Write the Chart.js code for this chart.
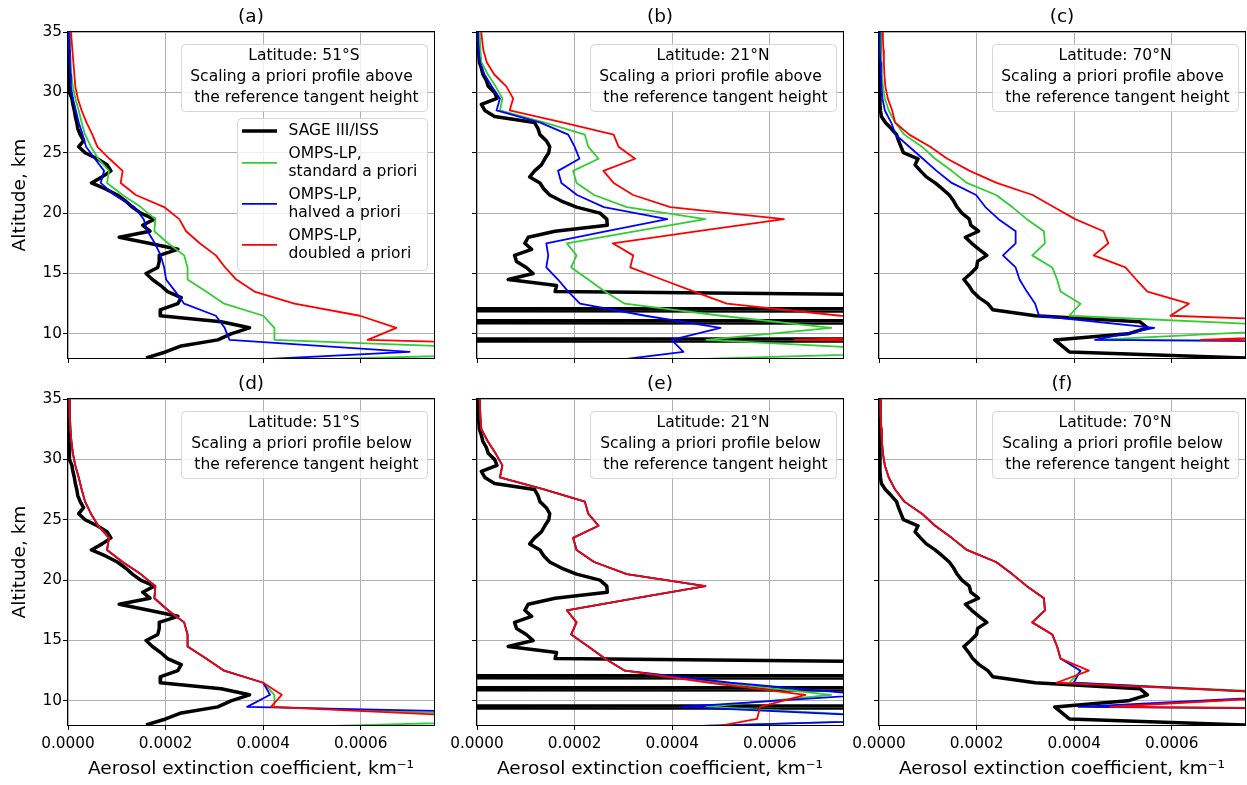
<!DOCTYPE html>
<html>
<head>
<meta charset="utf-8">
<script src="https://cdn.jsdelivr.net/npm/chart.js@4.4.1/dist/chart.umd.min.js"></script>
<style>
body { margin: 0; background: #fff; width: 1247px; height: 785px; overflow: hidden; position: relative; }
canvas { position: absolute; }
</style>
</head>
<body>
<script>
// extinction values are in units of 1e-4 km^-1
const EXT_UNIT = 1e-4;

// SAGE III/ISS altitude grid (km)
const sageAlt = [35, 34.5, 34, 33.5, 33, 32.5, 32, 31.5, 31, 30.5, 30, 29.5, 29, 28.5, 28, 27.5, 27, 26.5, 26, 25.5,
    25, 24.5, 24, 23.5, 23, 22.5, 22, 21.5, 21, 20.5, 20, 19.5, 19, 18.5, 18, 17.5, 17, 16.5, 16, 15.5,
    15, 14.5, 14, 13.5, 13, 12.5, 12, 11.5, 11, 10.5, 10, 9.5, 9, 8.5, 8];

const sage51S = [0.02, 0.02, 0.02, 0.02, 0.03, 0.03, 0.03, 0.03, 0.03, 0.03, 0.03, 0.08, 0.10, 0.13, 0.15, 0.18, 0.20, 0.25, 0.32, 0.22,
    0.35, 0.60, 0.80, 0.88, 0.70, 0.48, 0.77, 1.01, 1.18, 1.32, 1.49, 1.77, 1.53, 1.68, 1.05, 1.66, 2.25, 1.87, 1.87, 1.84,
    1.60, 1.73, 1.90, 2.04, 2.32, 2.25, 1.90, 1.89, 3.14, 3.72, 3.34, 3.07, 2.32, 2.00, 1.60];
const sage21N = [0.02, 0.02, 0.02, 0.03, 0.04, 0.05, 0.09, 0.12, 0.19, 0.23, 0.36, 0.41, 0.09, 0.16, 0.36, 1.18, 1.25, 1.29, 1.42, 1.49,
    1.47, 1.39, 1.32, 1.18, 1.08, 1.29, 1.37, 1.49, 1.73, 2.04, 2.52, 2.66, 2.67, 1.60, 1.05, 0.98, 1.12, 0.77, 0.81, 1.01,
    1.15, 0.64, 1.63, 1.60, 15, 200, -40, 200, -40, 200, 200, -40, 200, 200, 200];
const sage70N = [0.02, 0.02, 0.02, 0.02, 0.02, 0.02, 0.02, 0.02, 0.02, 0.02, 0.02, 0.02, 0.02, 0.03, 0.05, 0.13, 0.25, 0.36, 0.40, 0.45,
    0.50, 0.80, 0.74, 0.85, 0.97, 1.15, 1.30, 1.44, 1.53, 1.60, 1.70, 1.85, 1.88, 2.04, 1.77, 1.90, 2.05, 2.21, 2.02, 2.00,
    1.88, 1.74, 1.84, 1.92, 2.05, 2.23, 2.33, 3.20, 5.35, 5.50, 5.10, 3.60, 3.75, 3.90, 7.50];

// OMPS-LP altitude grid (km)
const ompsAlt = [35.5, 34.5, 33.5, 32.5, 31.5, 30.5, 29.5, 28.5, 27.5, 26.5, 25.5, 24.5, 23.5, 22.5, 21.5,
    20.5, 19.5, 18.5, 17.5, 16.5, 15.5, 14.5, 13.5, 12.5, 11.5, 10.5, 9.5, 8.5, 7.5];

// standard a priori (same in both rows)
const std51S = [0.03, 0.03, 0.04, 0.05, 0.07, 0.10, 0.15, 0.22, 0.28, 0.35, 0.47, 0.62, 0.84, 0.80, 1.12,
    1.49, 1.79, 1.77, 2.05, 2.38, 2.45, 2.45, 2.83, 3.20, 4.00, 4.23, 4.23, 10.8, 1.5];
const std21N = [0.05, 0.06, 0.07, 0.09, 0.22, 0.38, 0.52, 0.47, 1.39, 2.21, 2.28, 2.49, 1.97, 2.04, 2.40,
    3.07, 4.68, 3.26, 1.84, 2.04, 1.93, 2.28, 2.62, 3.03, 5.00, 7.26, 4.70, 9.5, 1.0];
const std70N = [0.03, 0.03, 0.04, 0.05, 0.06, 0.08, 0.12, 0.20, 0.33, 0.52, 0.88, 1.15, 1.49, 1.80, 2.40,
    2.73, 3.03, 3.38, 3.40, 3.14, 3.55, 3.65, 3.72, 4.13, 3.90, 9.4, 4.43, 40, 40];

// a priori scaled above the reference tangent height
const halfAbove51S = [0.02, 0.02, 0.03, 0.04, 0.05, 0.06, 0.10, 0.16, 0.22, 0.30, 0.37, 0.55, 0.74, 0.67, 0.95,
    1.36, 1.55, 1.63, 1.78, 1.90, 1.97, 2.01, 2.20, 2.38, 3.03, 3.21, 3.31, 7.0, 2.0];
const dblAbove51S = [0.06, 0.07, 0.09, 0.11, 0.13, 0.15, 0.20, 0.28, 0.38, 0.50, 0.60, 0.85, 1.12, 1.08, 1.39,
    1.97, 2.28, 2.42, 2.70, 3.03, 3.22, 3.45, 3.82, 4.64, 5.98, 6.73, 6.14, 16, 16];
const halfAbove21N = [0.01, 0.02, 0.03, 0.06, 0.15, 0.30, 0.47, 0.40, 1.30, 1.87, 2.00, 2.10, 1.66, 1.73, 2.05,
    2.60, 3.90, 2.66, 1.42, 1.46, 1.42, 1.66, 1.87, 2.11, 3.45, 4.99, 3.99, 4.23, 2.2];
const dblAbove21N = [0.08, 0.10, 0.13, 0.20, 0.35, 0.60, 0.74, 0.67, 1.77, 2.80, 2.90, 3.24, 2.59, 2.80, 3.20,
    3.96, 6.29, 4.53, 2.78, 3.20, 3.14, 3.79, 4.45, 5.12, 7.45, 15, 6.5, 30, 30];
const halfAbove70N = [0.01, 0.01, 0.02, 0.03, 0.04, 0.05, 0.07, 0.12, 0.25, 0.34, 0.62, 0.90, 1.18, 1.49, 1.99,
    2.18, 2.45, 2.80, 2.80, 2.54, 2.80, 2.88, 3.03, 3.20, 3.28, 5.64, 4.43, 40, 40];
const dblAbove70N = [0.07, 0.08, 0.09, 0.10, 0.11, 0.13, 0.18, 0.27, 0.33, 0.62, 1.05, 1.40, 1.86, 2.41, 3.15,
    3.58, 4.02, 4.60, 4.70, 4.40, 5.05, 5.27, 5.50, 6.35, 5.97, 13, 6.6, 40, 40];

// a priori scaled below the reference tangent height
const halfBelow51S = [0.03, 0.03, 0.04, 0.05, 0.07, 0.10, 0.15, 0.22, 0.28, 0.35, 0.47, 0.62, 0.84, 0.80, 1.12,
    1.49, 1.79, 1.77, 2.05, 2.38, 2.45, 2.45, 2.83, 3.20, 4.00, 4.14, 3.67, 15, 15];
const dblBelow51S = [0.03, 0.03, 0.04, 0.05, 0.07, 0.10, 0.15, 0.22, 0.28, 0.35, 0.47, 0.62, 0.84, 0.80, 1.12,
    1.49, 1.79, 1.77, 2.05, 2.38, 2.45, 2.45, 2.83, 3.20, 4.00, 4.38, 4.16, 9.6, 9.6];
const halfBelow21N = [0.05, 0.06, 0.07, 0.09, 0.22, 0.38, 0.52, 0.47, 1.39, 2.21, 2.28, 2.49, 1.97, 2.04, 2.40,
    3.07, 4.68, 3.26, 1.84, 2.04, 1.93, 2.28, 2.62, 3.03, 5.20, 8.0, 4.19, 9.5, 1.0];
const dblBelow21N = [0.05, 0.06, 0.07, 0.09, 0.22, 0.38, 0.52, 0.47, 1.39, 2.21, 2.28, 2.49, 1.97, 2.04, 2.40,
    3.07, 4.68, 3.26, 1.84, 2.04, 1.93, 2.28, 2.62, 3.03, 4.76, 6.73, 5.80, 5.74, 4.4];
const halfBelow70N = [0.03, 0.03, 0.04, 0.05, 0.06, 0.08, 0.12, 0.20, 0.33, 0.52, 0.88, 1.15, 1.49, 1.80, 2.40,
    2.73, 3.03, 3.38, 3.40, 3.14, 3.55, 3.65, 3.72, 4.13, 3.99, 8.9, 4.09, 40, 40];
const dblBelow70N = [0.03, 0.03, 0.04, 0.05, 0.06, 0.08, 0.12, 0.20, 0.33, 0.52, 0.88, 1.15, 1.49, 1.80, 2.40,
    2.73, 3.03, 3.38, 3.40, 3.14, 3.55, 3.65, 3.72, 4.30, 3.64, 9.1, 4.74, 40, 40];

const xTicks = [0, 0.0002, 0.0004, 0.0006];
const yTicks = [10, 15, 20, 25, 30, 35];

const panels = [
    { title: '(a)', lat: 'Latitude: 51°S', where: 'above', sage: sage51S, std: std51S, half: halfAbove51S, dbl: dblAbove51S, col: 0, row: 0, legend: true },
    { title: '(b)', lat: 'Latitude: 21°N', where: 'above', sage: sage21N, std: std21N, half: halfAbove21N, dbl: dblAbove21N, col: 1, row: 0 },
    { title: '(c)', lat: 'Latitude: 70°N', where: 'above', sage: sage70N, std: std70N, half: halfAbove70N, dbl: dblAbove70N, col: 2, row: 0 },
    { title: '(d)', lat: 'Latitude: 51°S', where: 'below', sage: sage51S, std: std51S, half: halfBelow51S, dbl: dblBelow51S, col: 0, row: 1 },
    { title: '(e)', lat: 'Latitude: 21°N', where: 'below', sage: sage21N, std: std21N, half: halfBelow21N, dbl: dblBelow21N, col: 1, row: 1 },
    { title: '(f)', lat: 'Latitude: 70°N', where: 'below', sage: sage70N, std: std70N, half: halfBelow70N, dbl: dblBelow70N, col: 2, row: 1 }
];

// layout (px)
const LEFT_MARGIN = 68, RIGHT_MARGIN = 3, TOP_MARGIN = 32;
const PLOT_W = 366, PLOT_H = 326;
const COL_LEFT = [68, 477, 879];
const ROW_TOP = [32, 399];
const BOTTOM_MARGIN = [12, 59];
const FONT = 'DejaVu Sans';

Chart.defaults.font.family = FONT;
Chart.defaults.color = '#000';

function profile(alts, vals) {
    return alts.map((a, i) => ({ x: vals[i] * EXT_UNIT, y: a }));
}

// spines, annotation box and legend on top of the lines
const decor = {
    id: 'decor',
    afterDatasetsDraw(chart, args, opts) {
        const { ctx, chartArea: a } = chart;
        ctx.save();
        ctx.strokeStyle = '#000';
        ctx.lineWidth = 1;
        ctx.strokeRect(a.left - 0.5, a.top - 0.5, a.right - a.left + 1, a.bottom - a.top + 1);

        // annotation
        const bx = a.right - 253, by = a.top + 12;
        ctx.beginPath();
        ctx.roundRect(bx + 0.5, by + 0.5, 246, 67, 4);
        ctx.fillStyle = 'rgba(255,255,255,0.8)';
        ctx.fill();
        ctx.strokeStyle = '#d6d6d6';
        ctx.stroke();
        ctx.fillStyle = '#000';
        ctx.font = '15.5px "' + FONT + '"';
        ctx.textAlign = 'center';
        ctx.textBaseline = 'middle';
        opts.lines.forEach((t, i) => ctx.fillText(t, bx + 123, a.top + 24 + i * 21));

        if (opts.legend) {
            const lx = a.right - 197, ly = a.top + 86;
            ctx.beginPath();
            ctx.roundRect(lx + 0.5, ly + 0.5, 190, 152, 4);
            ctx.fillStyle = 'rgba(255,255,255,0.8)';
            ctx.fill();
            ctx.strokeStyle = '#d6d6d6';
            ctx.stroke();
            ctx.textAlign = 'left';
            let y = a.top + 99;
            [0, 1, 2, 3].forEach(i => {
                const ds = chart.data.datasets[i];
                const rows = ds.label.split('\n');
                const hy = y + (rows.length - 1) * 9.2;
                ctx.beginPath();
                ctx.moveTo(lx + 5, hy);
                ctx.lineTo(lx + 40, hy);
                ctx.strokeStyle = ds.borderColor;
                ctx.lineWidth = ds.borderWidth;
                ctx.stroke();
                ctx.fillStyle = '#000';
                rows.forEach((r, k) => ctx.fillText(r, lx + 51.5, y + k * 18.4));
                y += (rows.length - 1) * 18.4 + 22.6;
            });
        }
        ctx.restore();
    }
};

panels.forEach(p => {
    const cv = document.createElement('canvas');
    const w = LEFT_MARGIN + PLOT_W + RIGHT_MARGIN;
    const h = TOP_MARGIN + PLOT_H + BOTTOM_MARGIN[p.row];
    cv.width = w;
    cv.height = h;
    cv.style.width = w + 'px';
    cv.style.height = h + 'px';
    cv.style.left = (COL_LEFT[p.col] - LEFT_MARGIN) + 'px';
    cv.style.top = (ROW_TOP[p.row] - TOP_MARGIN) + 'px';
    document.body.appendChild(cv);

    const lineBase = { showLine: true, pointRadius: 0, pointHoverRadius: 0, clip: 0, fill: false, borderJoinStyle: 'round' };
    const datasets = [
        { label: 'SAGE III/ISS', data: profile(sageAlt, p.sage), borderColor: '#000000', borderWidth: 3.5, order: 4 },
        { label: 'OMPS-LP,\nstandard a priori', data: profile(ompsAlt, p.std), borderColor: '#32cd32', borderWidth: 1.8, order: 3 },
        { label: 'OMPS-LP,\nhalved a priori', data: profile(ompsAlt, p.half), borderColor: '#0000ff', borderWidth: 1.8, order: 2 },
        { label: 'OMPS-LP,\ndoubled a priori', data: profile(ompsAlt, p.dbl), borderColor: '#ff0000', borderWidth: 1.8, order: 1 }
    ].map(d => Object.assign({}, lineBase, d));

    const gridOpts = { color: '#b0b0b0', lineWidth: 1, tickColor: '#000', tickLength: 5, tickWidth: 1 };

    new Chart(cv, {
        type: 'scatter',
        data: { datasets },
        options: {
            responsive: false,
            animation: false,
            events: [],
            layout: { padding: { left: 0, right: RIGHT_MARGIN, top: 0, bottom: 0 } },
            plugins: {
                legend: { display: false },
                tooltip: { enabled: false },
                title: {
                    display: true,
                    text: p.title,
                    fullSize: false,
                    color: '#000',
                    font: { family: FONT, size: 18.5, weight: 'normal' },
                    padding: { top: 6, bottom: 3.8 }
                },
                decor: {
                    legend: !!p.legend,
                    lines: [p.lat, 'Scaling a priori profile ' + p.where + ' ', ' the reference tangent height']
                }
            },
            scales: {
                x: {
                    type: 'linear',
                    min: 0,
                    max: 0.00075,
                    afterBuildTicks: s => { s.ticks = xTicks.map(v => ({ value: v })); },
                    ticks: {
                        display: p.row === 1,
                        color: '#000',
                        font: { size: 15.3 },
                        padding: 5,
                        maxRotation: 0,
                        autoSkip: false,
                        callback: v => v.toFixed(4)
                    },
                    grid: gridOpts,
                    border: { display: false },
                    title: {
                        display: p.row === 1,
                        text: 'Aerosol extinction coefficient, km⁻¹',
                        color: '#000',
                        font: { size: 18.5 },
                        padding: { top: 0, bottom: 4 }
                    },
                    afterFit: s => { s.height = BOTTOM_MARGIN[p.row]; }
                },
                y: {
                    type: 'linear',
                    min: 8,
                    max: 35,
                    afterBuildTicks: s => { s.ticks = yTicks.map(v => ({ value: v })); },
                    ticks: {
                        display: p.col === 0,
                        color: '#000',
                        font: { size: 15.3 },
                        padding: 1
                    },
                    grid: gridOpts,
                    border: { display: false },
                    title: {
                        display: p.col === 0,
                        text: 'Altitude, km',
                        color: '#000',
                        font: { size: 18.5 },
                        padding: { top: 9, bottom: 0 }
                    },
                    afterFit: s => { s.width = LEFT_MARGIN; }
                }
            }
        },
        plugins: [decor]
    });
});
</script>
</body>
</html>
